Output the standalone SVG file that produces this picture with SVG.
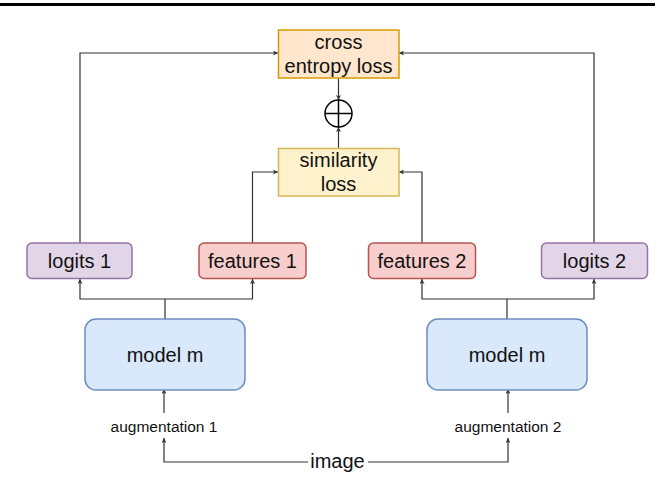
<svg xmlns="http://www.w3.org/2000/svg" width="661" height="497" viewBox="0 0 661 497">
<style>
text{font-family:"Liberation Sans",Arial,sans-serif;fill:#111;text-anchor:middle}
.t20{font-size:20px}
.t15{font-size:15.5px}
.ce{fill:#ffe6cc;stroke:#d79b00;stroke-width:1.5}
.sim{fill:#fff2cc;stroke:#d6b656;stroke-width:1.5}
.lg{fill:#e1d5e7;stroke:#9673a6;stroke-width:1.5}
.ft{fill:#f8cecc;stroke:#b85450;stroke-width:1.5}
.md{fill:#dae8fc;stroke:#6c8ebf;stroke-width:1.5}
.c{fill:none;stroke:#333;stroke-width:1.2}
</style>
<defs>
<marker id="a" viewBox="0 0 6 6" refX="6" refY="3" markerWidth="5" markerHeight="5" orient="auto" markerUnits="userSpaceOnUse">
<path d="M0,0 L6,3 L0,6 L1.5,3 Z" fill="#333"/>
</marker>
</defs>
<rect x="0" y="3" width="655" height="3" fill="#000"/>
<g id="connectors">
<path class="c" d="M80,243 V53 H278" marker-end="url(#a)"/>
<path class="c" d="M594,243 V53 H399" marker-end="url(#a)"/>
<path class="c" d="M252.5,243 V172 H278" marker-end="url(#a)"/>
<path class="c" d="M422,243 V172 H399" marker-end="url(#a)"/>
<path class="c" d="M338.5,78 V100" marker-end="url(#a)"/>
<path class="c" d="M338.5,148 V127" marker-end="url(#a)"/>
<path class="c" d="M165,319 V299 H80 V279" marker-end="url(#a)"/>
<path class="c" d="M165,299 H252.5 V279" marker-end="url(#a)"/>
<path class="c" d="M507,319 V299 H422 V279" marker-end="url(#a)"/>
<path class="c" d="M507,299 H594 V279" marker-end="url(#a)"/>
<path class="c" d="M164,413 V389" marker-end="url(#a)"/>
<path class="c" d="M508,413 V389" marker-end="url(#a)"/>
<path class="c" d="M308,462 H164 V438" marker-end="url(#a)"/>
<path class="c" d="M368,462 H508 V438" marker-end="url(#a)"/>
</g>
<g id="cross-entropy">
<rect class="ce" x="278.5" y="30" width="120.5" height="48"/>
<text class="t20" x="338.5" y="49">cross</text>
<text class="t20" x="338.5" y="72.5">entropy loss</text>
</g>
<g id="plus">
<circle cx="338.5" cy="113.5" r="13.5" fill="#fff" stroke="#000" stroke-width="1.5"/>
<path d="M325,113.5 H352 M338.5,100 V127" stroke="#000" stroke-width="1.5"/>
</g>
<g id="similarity">
<rect class="sim" x="278.5" y="148.5" width="120.5" height="47.5"/>
<text class="t20" x="338.5" y="167">similarity</text>
<text class="t20" x="338.5" y="190.5">loss</text>
</g>
<g id="logits1">
<rect class="lg" x="27" y="243" width="105" height="35.5" rx="5"/>
<text class="t20" x="79.5" y="268">logits 1</text>
</g>
<g id="features1">
<rect class="ft" x="199" y="243" width="107" height="35.5" rx="5"/>
<text class="t20" x="252.5" y="268">features 1</text>
</g>
<g id="features2">
<rect class="ft" x="368.5" y="243" width="107" height="35.5" rx="5"/>
<text class="t20" x="422" y="268">features 2</text>
</g>
<g id="logits2">
<rect class="lg" x="541.5" y="243" width="106" height="35.5" rx="5"/>
<text class="t20" x="594.5" y="268">logits 2</text>
</g>
<g id="model1">
<rect class="md" x="85" y="319" width="160" height="71" rx="11"/>
<text class="t20" x="165" y="362">model m</text>
</g>
<g id="model2">
<rect class="md" x="427" y="319" width="160" height="71" rx="11"/>
<text class="t20" x="507" y="362">model m</text>
</g>
<g id="aug1"><text class="t15" x="164" y="432">augmentation 1</text></g>
<g id="aug2"><text class="t15" x="508" y="432">augmentation 2</text></g>
<g id="image"><text class="t20" x="337.5" y="468">image</text></g>
</svg>
